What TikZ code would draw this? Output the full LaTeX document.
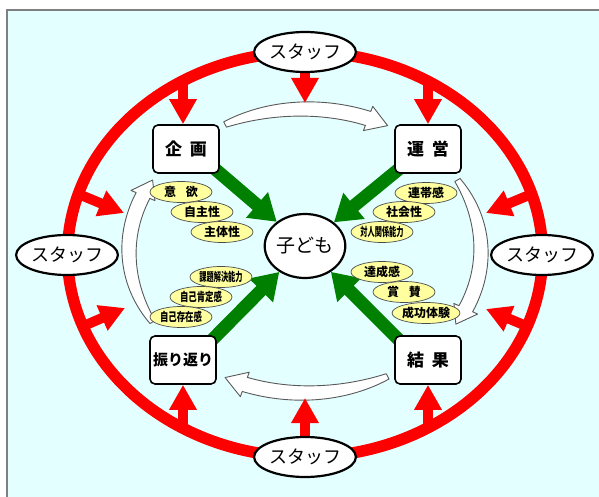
\documentclass[tikz,border=0pt]{standalone}
\usepackage{graphicx}
\usepackage{fontspec}
\setmainfont{Noto Sans CJK JP}
\usetikzlibrary{arrows.meta,shapes.geometric,calc}
\definecolor{bgcyan}{RGB}{228,255,255}
\definecolor{dgreen}{RGB}{0,128,0}
\definecolor{pyellow}{RGB}{255,255,160}
\definecolor{redr}{RGB}{255,0,0}
\pgfdeclarelayer{bg}
\pgfdeclarelayer{arr}
\pgfsetlayers{bg,arr,main}
\tikzset{
 staff/.style={ellipse, draw, line width=2.2pt, fill=white, minimum width=82pt, minimum height=40pt, inner sep=0pt, font=\fontsize{18}{18}\selectfont},
 stagebox/.style={draw, line width=1.6pt, rounded corners=5pt, fill=white, minimum width=66pt, minimum height=48pt, inner sep=0pt, font=\bfseries\fontsize{17}{17}\selectfont},
 kid/.style={ellipse, draw, line width=2.2pt, fill=white, minimum width=73pt, minimum height=64pt, inner sep=0pt, font=\fontsize{19}{19}\selectfont},
 trait/.style={ellipse, draw=black!70, line width=0.7pt, fill=pyellow, minimum width=62pt, minimum height=21pt, inner sep=0pt, font=\bfseries\fontsize{12}{12}\selectfont},
 redarrow/.style={draw=redr, line width=10pt, -{Triangle[length=25pt,width=26pt]}},
 greenarrow/.style={draw=dgreen, line width=13pt, -{Triangle[length=26pt,width=32pt]}},
 warrow/.style={draw=black!65, fill=white, line width=0.9pt, line join=round},
 ring/.style={draw=redr, line width=11.5pt},
}
\newcommand\wArrow[2]{%
  \pgfmathsetmacro\hb{#2-7}%
  \draw[warrow] plot[domain=#1:\hb,samples=30] ({305+(176+7.5-4.5*(1-(\x-(#1))/(\hb-(#1)))^3)*cos(\x)},{251+(142+7.5-4.5*(1-(\x-(#1))/(\hb-(#1)))^3)*sin(\x)})
   -- ({305+(176+13)*cos(\hb)},{251+(142+13)*sin(\hb)})
   -- ({305+176*cos(#2)},{251+142*sin(#2)})
   -- ({305+(176-13)*cos(\hb)},{251+(142-13)*sin(\hb)})
   -- plot[domain=\hb:#1,samples=30] ({305+(176-7.5+4.5*(1-(\x-(#1))/(\hb-(#1)))^3)*cos(\x)},{251+(142-7.5+4.5*(1-(\x-(#1))/(\hb-(#1)))^3)*sin(\x)})
   -- cycle;}
\begin{document}
\begin{tikzpicture}[x=1pt,y=-1pt]
\useasboundingbox (0,0) rectangle (599,497);
\begin{pgfonlayer}{bg}
\fill[white] (0,0) rectangle (599,497);
\fill[bgcyan] (7,10) rectangle (599,497);
\draw[gray, line width=1.5pt] (7,497) -- (7,10) -- (599,10);
\wArrow{-117}{-62}
\wArrow{-30}{31}
\wArrow{62}{117}
\wArrow{150}{210}
\end{pgfonlayer}

% nodes
\node[staff] (st) at (305,52) {スタッフ};
\node[staff] (sl) at (67,255) {スタッフ};
\node[staff] (sr) at (542,255) {スタッフ};
\node[staff] (sb) at (305,457) {スタッフ};

\node[stagebox] (kikaku) at (186,149) {企\hspace{0.45em}画};
\node[stagebox] (unei) at (428,149) {運\hspace{0.45em}営};
\node[stagebox, font=\bfseries\fontsize{15}{15}\selectfont] (furi) at (183,360) {振り返り};
\node[stagebox] (kekka) at (428,360) {結\hspace{0.45em}果};

\node[kid] (kodomo) at (305,246) {子ども};

\node[trait] (a1) at (181,192) {意\hspace{0.8em}欲};
\node[trait] (a2) at (202,212) {自主性};
\node[trait] (a3) at (222,232) {主体性};
\node[trait] (b1) at (221,277) {\scalebox{0.6}[1]{課題解決能力}};
\node[trait] (b2) at (201,297) {\scalebox{0.7}[1]{自己肯定感}};
\node[trait] (b3) at (181,317) {\scalebox{0.7}[1]{自己存在感}};
\node[trait] (c1) at (426,193) {連帯感};
\node[trait] (c2) at (404,212) {社会性};
\node[trait] (c3) at (382,232) {\scalebox{0.6}[1]{対人関係能力}};
\node[trait] (d3) at (426,313) {成功体験};
\node[trait] (d2) at (404,292) {賞\hspace{0.8em}賛};
\node[trait] (d1) at (382,272) {達成感};

% coordinates on ring / free ends
\coordinate (r1) at (183,81);
\coordinate (r3) at (428,81);
\coordinate (t2) at (305,103);
\coordinate (r4) at (76,193);
\coordinate (e4) at (124,213);
\coordinate (r5) at (79,328);
\coordinate (e5) at (125,308);
\coordinate (r6) at (534,193);
\coordinate (e6) at (486,213);
\coordinate (r7) at (531,328);
\coordinate (e7) at (486,309);
\coordinate (r8) at (183,428);
\coordinate (r9) at (428,428);
\coordinate (b0) at (305,398);

\begin{pgfonlayer}{arr}
\draw[redarrow] (r1) -- (r1 |- kikaku.north);
\draw[redarrow] (st.south) -- (t2);
\draw[redarrow] (r3) -- (r3 |- unei.north);
\draw[redarrow] (r4) -- (e4);
\draw[redarrow] (r5) -- (e5);
\draw[redarrow] (r6) -- (e6);
\draw[redarrow] (r7) -- (e7);
\draw[redarrow] (r8) -- (r8 |- furi.south);
\draw[redarrow] (sb.north) -- (b0);
\draw[redarrow] (r9) -- (r9 |- kekka.south);
\draw[ring] (305,254.5) ellipse [x radius=237.5pt, y radius=202.5pt];
\draw[greenarrow] ($(kikaku.south east)+(-5,-5)$) -- (kodomo);
\draw[greenarrow] ($(unei.south west)+(5,-5)$) -- (kodomo);
\draw[greenarrow] ($(furi.north east)+(-5,5)$) -- (kodomo);
\draw[greenarrow] ($(kekka.north west)+(5,5)$) -- (kodomo);
\end{pgfonlayer}
\end{tikzpicture}
\end{document}
